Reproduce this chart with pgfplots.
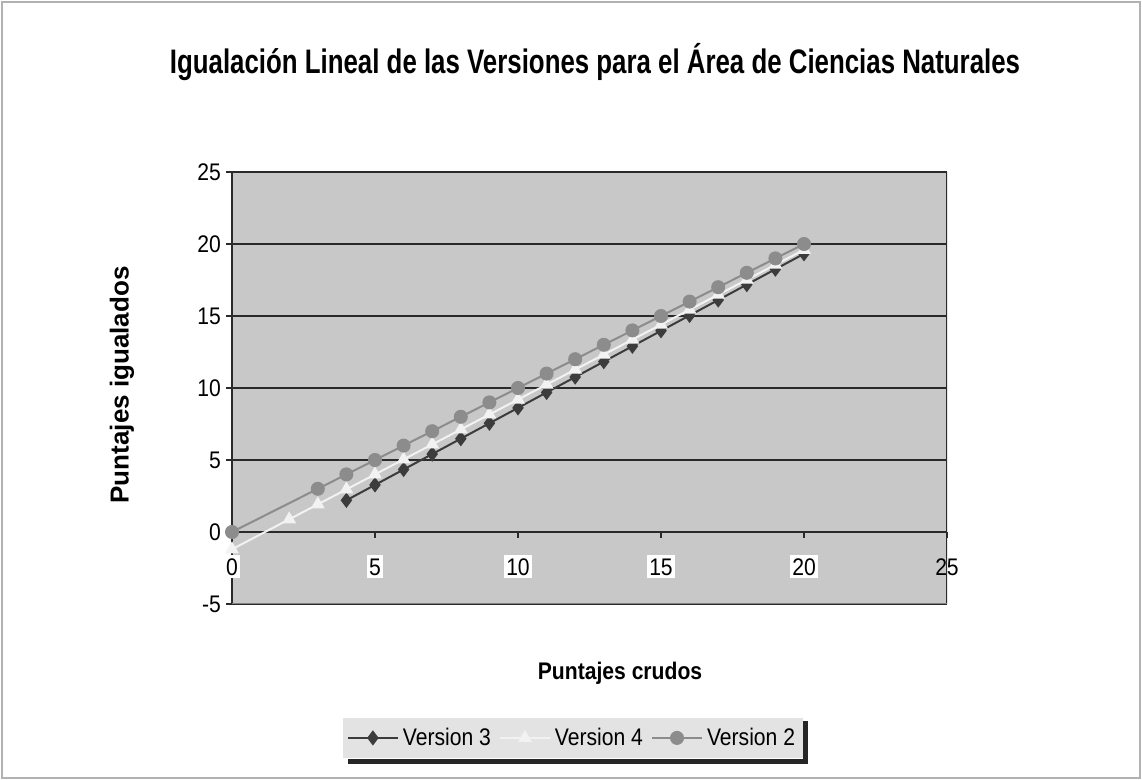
\documentclass[border=0pt]{standalone}
\usepackage{pgfplots}
\pgfplotsset{compat=1.18}
\usepackage{fontspec}
\setmainfont{Liberation Sans}[FakeStretch=0.88]
\newfontfamily\ylabfont{Liberation Sans}
\newfontfamily\titlefont{Liberation Sans}[FakeStretch=0.76]
\definecolor{plotbg}{HTML}{C8C8C8}
\definecolor{vtwo}{HTML}{8C8C8C}
\definecolor{vthree}{HTML}{3C3C3C}
\definecolor{vfour}{HTML}{F2F2F2}
\definecolor{gridc}{HTML}{2A2A2A}
\begin{document}
\begin{tikzpicture}
\path[use as bounding box] (0,0) rectangle (571pt,390pt);
\draw[gray!60, line width=1pt] (1pt,1pt) rectangle (570pt,389pt);
\begin{axis}[
  at={(116pt,88pt)}, anchor=south west,
  scale only axis, width=357.5pt, height=216pt,
  xmin=0, xmax=25, ymin=-5, ymax=25,
  axis x line=middle, axis y line=left,
  hide obscured x ticks=false,
  axis line style={-, gridc, line width=0.6pt},
  xtick={0,5,10,15,20}, extra x ticks={25},
  ytick={-5,0,5,10,15,20,25},
  tick align=outside, major tick length=3pt,
  tick style={gridc, line width=0.6pt},
  /pgf/number format/assume math mode=true,
  ticklabel style={font=\fontsize{12}{14}\selectfont},
  yticklabel style={xshift=1pt},
  xticklabel style={fill=white, inner sep=1.2pt, text height=9pt, text depth=0pt, yshift=-8.5pt},
  extra x tick style={xticklabel style={fill=none}},
  ymajorgrids, grid style={gridc, line width=0.6pt},
  axis background/.style={fill=plotbg},
  title={\titlefont\fontsize{17}{20}\selectfont\bfseries Igualación Lineal de las Versiones para el Área de Ciencias Naturales},
  title style={at={(axis description cs:0.5077,1.227)}, anchor=center},
  xlabel={\fontsize{12}{14}\selectfont\bfseries Puntajes crudos},
  xlabel style={at={(axis description cs:0.5427,-0.1597)}, anchor=center},
  ylabel={\ylabfont\fontsize{13}{15}\selectfont\bfseries Puntajes igualados},
  ylabel style={at={(axis description cs:-0.1538,0.507)}, anchor=center, rotate=0},
  legend columns=3,
  legend style={at={(axis description cs:0.4769,-0.310)}, anchor=center, name=leg,
    fill=gray!22, draw=none, font=\fontsize{12}{14}\selectfont,
    inner ysep=3pt, inner xsep=2pt,
    /tikz/every even column/.append style={column sep=2pt}},
  legend image code/.code={\draw[mark repeat=2,mark phase=2] plot coordinates {(0pt,0pt)(12.5pt,0pt)(25pt,0pt)};},
]
\addplot[vthree, line width=1pt, mark=diamond*, mark size=3pt, mark options={fill=vthree, draw=vthree}] coordinates {
(4,2.2)(5,3.27)(6,4.34)(7,5.41)(8,6.48)(9,7.55)(10,8.62)(11,9.69)(12,10.76)(13,11.83)(14,12.9)(15,13.97)(16,15.04)(17,16.11)(18,17.18)(19,18.25)(20,19.32)};
\addlegendentry{Version 3}
\addplot[vfour, line width=1pt, mark=triangle*, mark size=3pt, mark options={fill=vfour, draw=vfour}] coordinates {
(0,-1.2)(2,0.88)(3,1.92)(4,2.96)(5,4.0)(6,5.04)(7,6.08)(8,7.12)(9,8.16)(10,9.2)(11,10.24)(12,11.28)(13,12.32)(14,13.36)(15,14.4)(16,15.44)(17,16.48)(18,17.52)(19,18.56)(20,19.6)};
\addlegendentry{Version 4}
\addplot[vtwo, line width=1pt, mark=*, mark size=3pt, mark options={fill=vtwo, draw=vtwo}] coordinates {
(0,0)(3,3)(4,4)(5,5)(6,6)(7,7)(8,8)(9,9)(10,10)(11,11)(12,12)(13,13)(14,14)(15,15)(16,16)(17,17)(18,18)(19,19)(20,20)};
\addlegendentry{Version 2}
\draw[gridc, line width=0.8pt] (rel axis cs:1,0) -- (rel axis cs:1,1);
\draw[gray, line width=0.6pt] (rel axis cs:0,0) -- (rel axis cs:1,0);
\end{axis}
\fill[black!85] ([yshift=-2pt]leg.north east) rectangle ([xshift=2.5pt,yshift=-2.5pt]leg.south east);
\fill[black!85] ([xshift=3pt]leg.south west) rectangle ([xshift=2.5pt,yshift=-2.5pt]leg.south east);
\end{tikzpicture}
\end{document}
